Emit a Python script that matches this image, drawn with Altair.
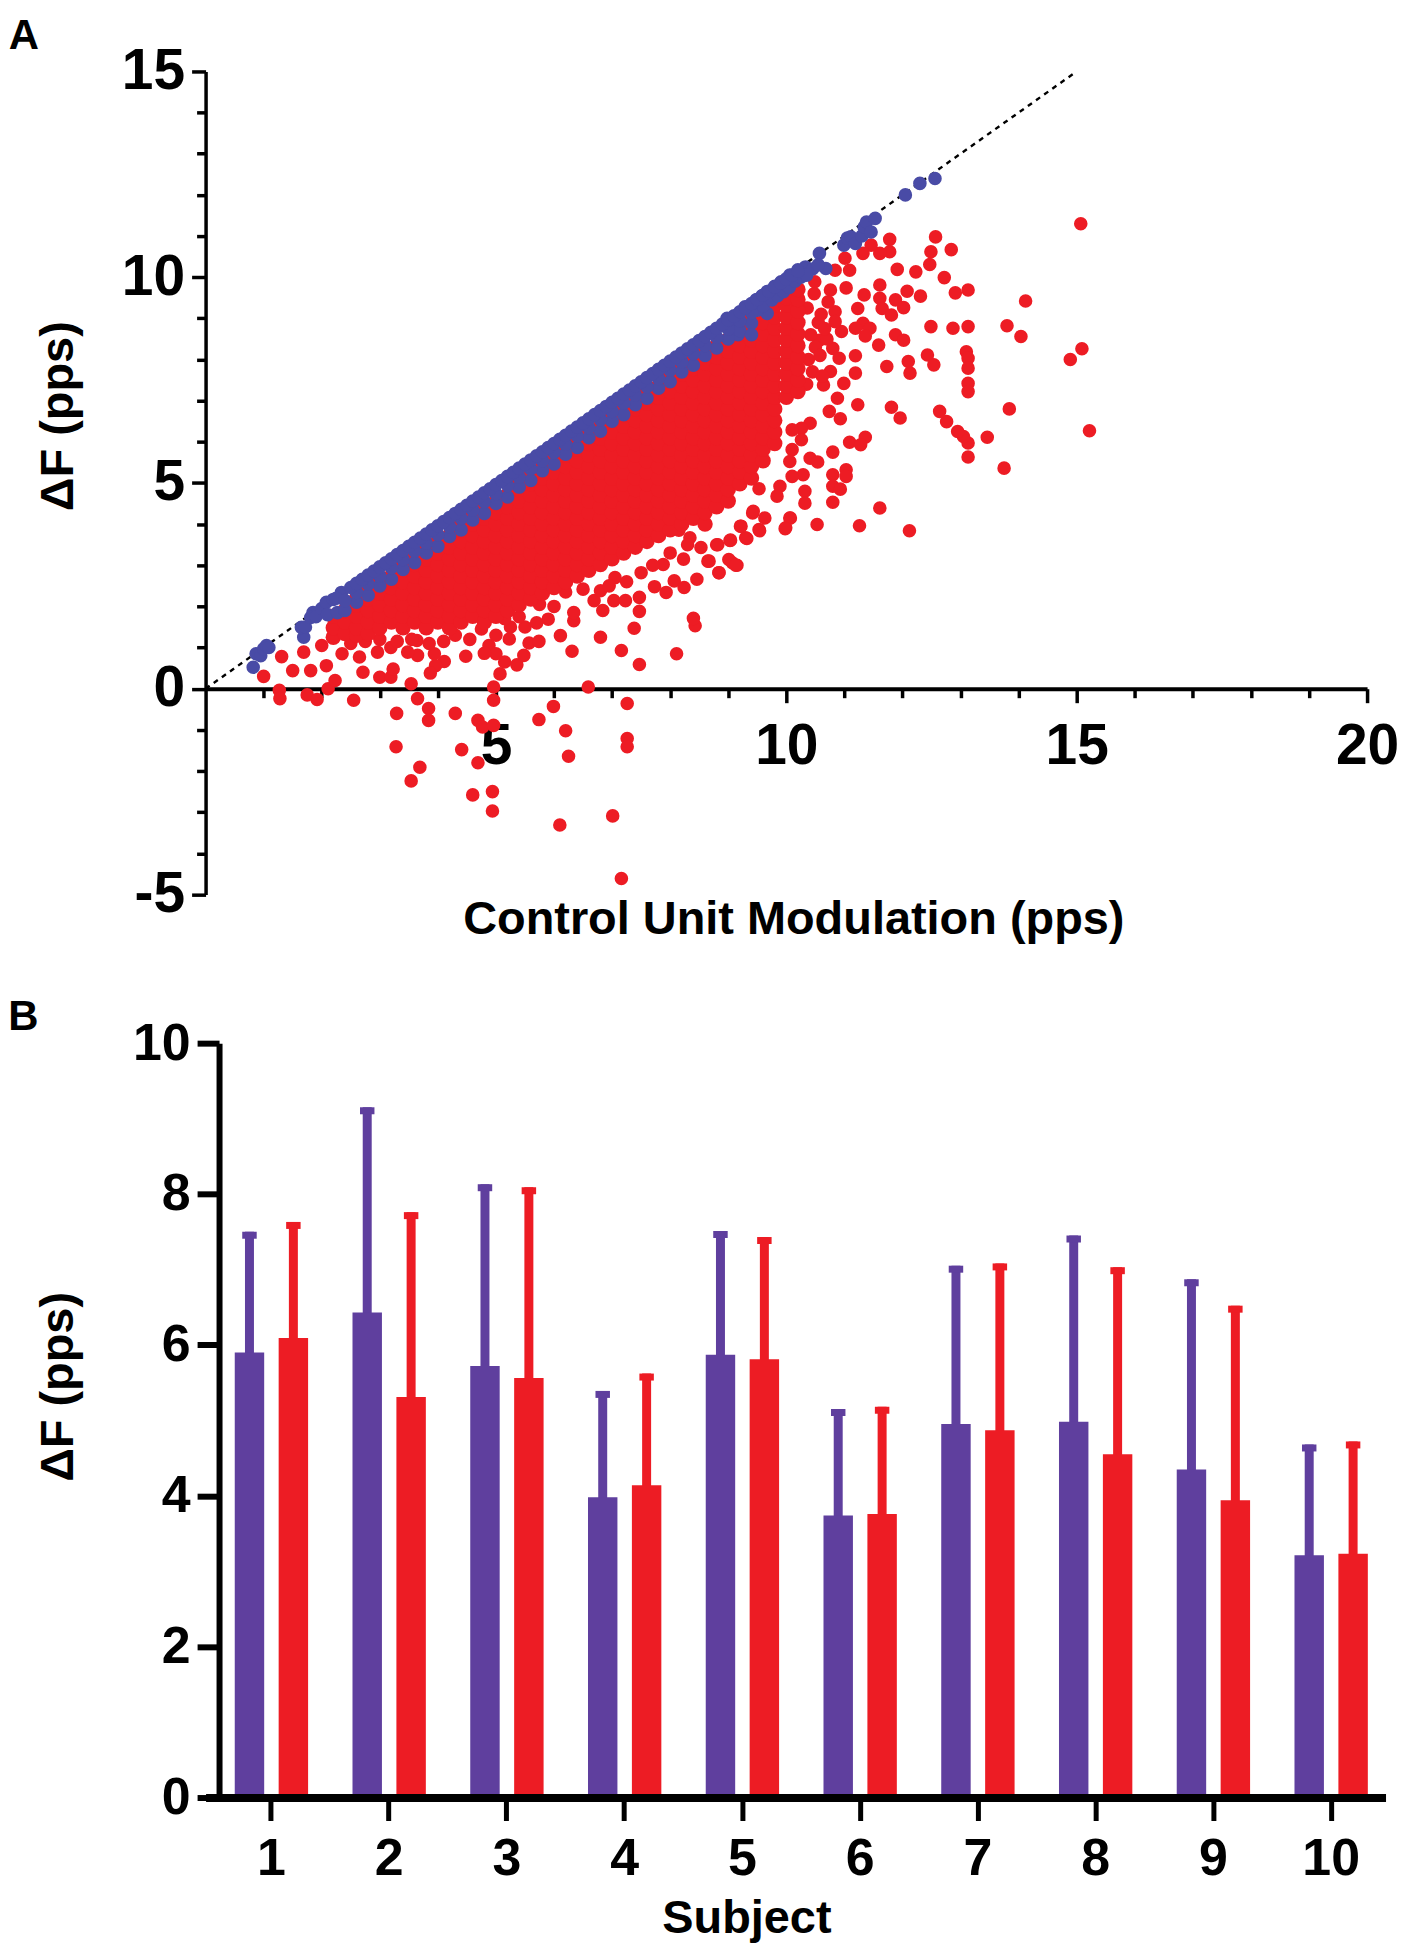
import altair as alt
import pandas as pd

SANS = "Liberation Sans"
RED = "#ED1C24"
BLUE = "#494BA6"
PURPLE = "#5F3F9E"

# ---------- Panel A: dense red cloud, one list of dF values per control-unit modulation value
dense_red = [
    (2.2, [1.25, 1.48, 1.76]),
    (2.4, [1.34, 1.62, 1.9]),
    (2.6, [1.3, 1.48, 1.76, 2.04, 2.2]),
    (2.8, [1.34, 1.62, 1.9, 2.18, 2.4]),
    (3.0, [1.48, 1.76, 2.04, 2.32, 2.6]),
    (3.2, [1.62, 1.9, 2.18, 2.46, 2.74]),
    (3.4, [1.48, 1.76, 2.04, 2.32, 2.6, 2.88, 3.0]),
    (3.6, [1.62, 1.9, 2.18, 2.46, 2.74, 3.02, 3.2]),
    (3.8, [1.48, 1.76, 2.04, 2.32, 2.6, 2.88, 3.16, 3.4]),
    (4.0, [1.62, 1.9, 2.18, 2.46, 2.74, 3.02, 3.3, 3.58]),
    (4.2, [1.48, 1.76, 2.04, 2.32, 2.6, 2.88, 3.16, 3.44, 3.72]),
    (4.4, [1.62, 1.9, 2.18, 2.46, 2.74, 3.02, 3.3, 3.58, 3.86, 4.0]),
    (4.6, [1.76, 2.04, 2.32, 2.6, 2.88, 3.16, 3.44, 3.72, 4.0, 4.2]),
    (4.8, [1.62, 1.9, 2.18, 2.46, 2.74, 3.02, 3.3, 3.58, 3.86, 4.14, 4.4]),
    (5.0, [1.76, 2.04, 2.32, 2.6, 2.88, 3.16, 3.44, 3.72, 4.0, 4.28, 4.56]),
    (5.2, [1.9, 2.18, 2.46, 2.74, 3.02, 3.3, 3.58, 3.86, 4.14, 4.42, 4.7]),
    (5.4, [2.04, 2.32, 2.6, 2.88, 3.16, 3.44, 3.72, 4.0, 4.28, 4.56, 4.84, 5.0]),
    (5.6, [2.18, 2.46, 2.74, 3.02, 3.3, 3.58, 3.86, 4.14, 4.42, 4.7, 4.98, 5.2]),
    (5.8, [2.32, 2.6, 2.88, 3.16, 3.44, 3.72, 4.0, 4.28, 4.56, 4.84, 5.12, 5.4]),
    (6.0, [2.46, 2.74, 3.02, 3.3, 3.58, 3.86, 4.14, 4.42, 4.7, 4.98, 5.26, 5.6]),
    (6.2, [2.6, 2.88, 3.16, 3.44, 3.72, 4.0, 4.28, 4.56, 4.84, 5.12, 5.4, 5.68, 5.85]),
    (6.4, [2.74, 3.02, 3.3, 3.58, 3.86, 4.14, 4.42, 4.7, 4.98, 5.26, 5.54, 5.82, 6.05]),
    (6.6, [2.88, 3.16, 3.44, 3.72, 4.0, 4.28, 4.56, 4.84, 5.12, 5.4, 5.68, 5.96, 6.24]),
    (6.8, [3.02, 3.3, 3.58, 3.86, 4.14, 4.42, 4.7, 4.98, 5.26, 5.54, 5.82, 6.1, 6.38]),
    (7.0, [3.16, 3.44, 3.72, 4.0, 4.28, 4.56, 4.84, 5.12, 5.4, 5.68, 5.96, 6.24, 6.52, 6.65]),
    (7.2, [3.3, 3.58, 3.86, 4.14, 4.42, 4.7, 4.98, 5.26, 5.54, 5.82, 6.1, 6.38, 6.66, 6.85]),
    (7.4, [3.44, 3.72, 4.0, 4.28, 4.56, 4.84, 5.12, 5.4, 5.68, 5.96, 6.24, 6.52, 6.8, 7.05]),
    (7.6, [3.58, 3.86, 4.14, 4.42, 4.7, 4.98, 5.26, 5.54, 5.82, 6.1, 6.38, 6.66, 6.94, 7.22]),
    (7.8, [3.72, 4.0, 4.28, 4.56, 4.84, 5.12, 5.4, 5.68, 5.96, 6.24, 6.52, 6.8, 7.08, 7.36]),
    (8.0, [3.86, 4.14, 4.42, 4.7, 4.98, 5.26, 5.54, 5.82, 6.1, 6.38, 6.66, 6.94, 7.22, 7.5, 7.65]),
    (8.2, [4.0, 4.28, 4.56, 4.84, 5.12, 5.4, 5.68, 5.96, 6.24, 6.52, 6.8, 7.08, 7.36, 7.64, 7.85]),
    (8.4, [4.14, 4.42, 4.7, 4.98, 5.26, 5.54, 5.82, 6.1, 6.38, 6.66, 6.94, 7.22, 7.5, 7.78, 8.05]),
    (8.6, [4.0, 4.28, 4.56, 4.84, 5.12, 5.4, 5.68, 5.96, 6.24, 6.52, 6.8, 7.08, 7.36, 7.64, 7.92, 8.2]),
    (8.8, [4.42, 4.7, 4.98, 5.26, 5.54, 5.82, 6.1, 6.38, 6.66, 6.94, 7.22, 7.5, 7.78, 8.06, 8.34]),
    (9.0, [4.56, 4.84, 5.12, 5.4, 5.68, 5.96, 6.24, 6.52, 6.8, 7.08, 7.36, 7.64, 7.92, 8.2, 8.48]),
    (9.2, [4.98, 5.26, 5.54, 5.82, 6.1, 6.38, 6.66, 6.94, 7.22, 7.5, 7.78, 8.06, 8.34, 8.62, 8.8]),
    (9.4, [5.12, 5.4, 5.68, 5.96, 6.24, 6.52, 6.8, 7.08, 7.36, 7.64, 7.92, 8.2, 8.48, 8.76, 9.0]),
    (9.6, [5.54, 5.82, 6.1, 6.38, 6.66, 6.94, 7.22, 7.5, 7.78, 8.06, 8.34, 8.62, 8.9, 9.2]),
    (9.8, [5.96, 6.24, 6.52, 6.8, 7.08, 7.36, 7.64, 7.92, 8.2, 8.48, 8.76, 9.04, 9.32]),
    (10.0, [7.08, 7.36, 7.64, 7.92, 8.2, 8.48, 8.76, 9.04, 9.32, 9.5]),
    (10.2, [7.22, 7.5, 7.78, 8.06, 8.34, 8.62, 8.9, 9.18, 9.46, 9.7]),
]

# Red points that stand apart from the cloud
scatter_red_x = [
    1.0, 1.31, 1.5, 1.27, 1.28, 1.75, 1.92, 1.81, 1.69, 2.0, 2.08, 2.11, 2.23, 2.55, 2.35, 2.65, 2.71, 2.96, 3.19, 3.0,
    3.19, 3.23, 3.54, 3.65, 3.84, 3.84, 3.29, 3.28, 3.69, 3.54, 4.3, 4.41, 4.69, 4.77, 4.96, 4.69, 4.6, 4.94, 4.94, 4.96,
    4.96, 5.07, 5.15, 5.74, 5.99, 6.2, 6.25, 6.59, 7.26, 7.26, 7.26, 6.1, 7.01, 7.16, 7.47, 7.16, 6.31, 6.8, 6.11, 7.38,
    8.11, 8.43, 8.4, 5.36, 5.48, 5.57, 5.74, 5.23, 4.88, 5.0, 4.8, 4.48, 4.11, 3.96, 3.87, 3.94, 3.65, 3.48, 3.64, 6.34,
    6.34, 5.9, 6.84, 6.69, 6.8, 6.5, 7.03, 7.23, 7.47, 7.47, 7.5, 7.73, 7.93, 8.07, 8.24, 8.46, 8.84, 8.65, 9.07, 9.15,
    8.8, 8.53, 9.03, 9.3, 9.53, 9.22, 9.42, 9.63, 8.34, 8.23, 7.88, 9.99, 10.07, 10.53,
    15.07, 14.12, 15.09, 14.89, 15.22, 13.84, 13.8, 14.04, 13.75, 13.46, 13.13, 13.13, 13.05, 12.95, 12.76, 12.64, 11.96, 11.81,
    13.13, 12.91, 13.13, 12.87, 12.49, 12.57, 12.84, 12.49, 12.47, 12.23, 11.91, 12.72, 11.78, 11.78, 11.61, 11.46, 11.32,
    13.1, 13.13, 13.13, 13.13, 13.13, 12.43, 12.54, 12.1, 12.13, 11.73, 11.19, 11.19, 11.59, 11.88, 12.02, 11.61, 11.61, 11.65,
    11.81, 11.88, 12.02, 12.08, 12.31, 11.34, 11.23, 11.03, 11.09, 11.01, 10.84, 11.32, 11.44, 11.36, 11.19, 10.95, 10.76, 10.49,
    10.84, 10.84, 10.57, 10.8, 10.91, 10.76, 10.99, 10.64, 10.88, 11.23, 10.74, 10.93, 10.41, 10.26, 10.1, 10.26, 10.1, 10.06,
    11.36, 11.09, 11.28, 10.8, 10.41, 10.54, 11.03, 11.03, 10.8, 10.29, 10.1, 10.8, 10.93, 10.32, 10.32, 10.8, 9.89, 9.84, 9.53,
    11.61, 9.43, 9.21, 9.54, 10.06, 9.98, 11.26, 12.12, 9.32, 9.04, 8.82, 8.67, 9.01, 9.13, 8.84,
    2.5, 2.75, 3.0, 3.3, 3.55, 3.85, 4.1, 4.3, 4.55, 4.75, 5.0, 5.25, 5.5, 5.7, 5.4, 5.15, 6.0, 5.75, 6.2, 7.05, 7.25, 6.95,
    7.7, 8.0, 8.3, 8.15,
    10.35, 10.45, 10.38, 10.5, 10.42, 10.55, 10.36, 10.48, 10.62, 10.58, 10.7, 10.66, 10.6, 10.72,
]
scatter_red_y = [
    0.3, 0.78, 0.44, -0.04, -0.24, -0.15, -0.26, 0.44, 0.89, 1.05, 0.56, 0.0, 0.2, -0.28, 0.85, 0.77, 0.4, 0.89, 1.0, 0.28,
    0.28, 0.48, 0.12, -0.24, -0.48, -0.77, -0.6, -1.41, -1.91, -2.24, -0.6, -1.48, -0.77, -0.93, -0.89, -1.8, -2.58, -2.5, -2.97, -0.28,
    0.04, 0.36, 0.65, -0.75, -0.43, -1.02, -1.64, 0.04, -0.36, -1.21, -1.41, -3.31, -3.09, -4.61, 0.59, 0.93, 0.91, 1.25, 1.29, 1.47,
    0.85, 1.53, 1.71, 0.58, 0.81, 1.11, 1.15, 1.21, 1.05, 0.85, 0.86, 0.79, 0.66, 0.56, 0.38, 0.85, 0.81, 0.89, 1.17, 1.65,
    1.85, 1.69, 1.9, 2.14, 2.38, 2.42, 2.14, 2.14, 2.22, 1.88, 2.82, 2.48, 2.34, 2.62, 2.46, 2.66, 2.82, 3.1, 3.06, 3.0,
    3.5, 3.43, 3.6, 3.67, 3.87, 3.95, 4.27, 4.15, 3.67, 3.15, 3.02, 3.91, 4.15, 3.99,
    11.3, 9.42, 8.26, 8.0, 6.27, 6.8, 8.82, 8.56, 5.36, 6.11, 5.63, 5.97, 6.13, 6.25, 6.49, 6.74, 6.58, 6.84,
    9.69, 9.62, 8.8, 8.76, 8.8, 10.98, 10.67, 10.62, 10.31, 10.13, 10.19, 9.99, 10.92, 10.62, 10.58, 10.78, 10.58,
    8.19, 8.03, 7.79, 7.42, 7.22, 8.11, 7.87, 7.95, 7.67, 7.83, 8.09, 7.67, 8.35, 8.6, 8.47, 9.81, 9.49, 9.24,
    9.08, 9.45, 9.26, 9.66, 9.54, 9.57, 9.24, 9.74, 10.17, 10.46, 10.17, 8.88, 8.76, 8.57, 8.76, 8.68, 9.69, 9.89,
    9.16, 8.92, 8.47, 8.27, 8.03, 7.71, 7.42, 7.38, 7.06, 6.9, 6.74, 6.56, 6.45, 6.33, 6.29, 6.05, 5.81, 5.52,
    6.11, 5.99, 5.93, 5.75, 5.6, 5.51, 5.32, 5.16, 5.2, 5.2, 5.16, 4.92, 4.85, 4.8, 4.51, 4.53, 4.92, 4.68, 4.86,
    4.39, 4.31, 3.95, 3.84, 4.15, 3.89, 3.96, 3.84, 3.65, 3.61, 3.5, 3.1, 3.14, 3.0, 2.82,
    1.1, 1.15, 1.2, 1.15, 1.2, 1.1, 1.15, 1.3, 1.2, 1.45, 1.3, 1.5, 1.5, 1.6, 1.75, 1.7, 2.0, 2.05, 2.35, 2.7, 2.6, 2.5,
    3.0, 3.3, 3.5, 3.85,
    7.4, 7.7, 8.0, 8.3, 8.6, 8.9, 9.25, 9.6, 7.6, 8.1, 8.5, 8.75, 9.1, 9.4,
]

# Blue points: the edge on the identity line
blue_edge_x = [
    2.5, 2.6, 2.7, 2.8, 2.9, 3.0, 3.1, 3.2, 3.3, 3.4, 3.5, 3.6, 3.7, 3.8, 3.9, 4.0, 4.1, 4.2, 4.3, 4.4, 4.5, 4.6, 4.7, 4.8, 4.9,
    5.0, 5.1, 5.2, 5.3, 5.4, 5.5, 5.6, 5.7, 5.8, 5.9, 6.0, 6.1, 6.2, 6.3, 6.4, 6.5, 6.6, 6.7, 6.8, 6.9, 7.0, 7.1, 7.2, 7.3, 7.4,
    7.5, 7.6, 7.7, 7.8, 7.9, 8.0, 8.1, 8.2, 8.3, 8.4, 8.5, 8.6, 8.7, 8.8, 8.9, 9.0,
    9.1, 9.2, 9.3, 9.4, 9.5, 9.6, 9.7, 9.8, 9.9, 10.0, 10.1, 10.2,
]
blue_edge_y = [
    2.46, 2.56, 2.66, 2.76, 2.86, 2.96, 3.06, 3.16, 3.26, 3.36, 3.46, 3.56, 3.66, 3.76, 3.86, 3.96, 4.06, 4.16, 4.26, 4.36, 4.46, 4.56, 4.66, 4.76, 4.86,
    4.96, 5.06, 5.16, 5.26, 5.36, 5.46, 5.56, 5.66, 5.76, 5.86, 5.96, 6.06, 6.16, 6.26, 6.36, 6.46, 6.56, 6.66, 6.76, 6.86, 6.96, 7.06, 7.16, 7.26, 7.36,
    7.46, 7.56, 7.66, 7.76, 7.86, 7.96, 8.06, 8.16, 8.26, 8.36, 8.46, 8.56, 8.66, 8.76, 8.86, 8.96,
    9.06, 9.16, 9.26, 9.36, 9.46, 9.56, 9.66, 9.76, 9.86, 9.96, 10.05, 10.15,
]
# Blue points: middle and lower rows of the band
blue_row_x = [
    2.4, 2.6, 2.8, 3.0, 3.2, 3.4, 3.6, 3.8, 4.0, 4.2, 4.4, 4.6, 4.8, 5.0, 5.2, 5.4, 5.6, 5.8, 6.0, 6.2, 6.4, 6.6, 6.8, 7.0, 7.2,
    7.4, 7.6, 7.8, 8.0, 8.2, 8.4, 8.6, 8.8, 9.0, 9.2, 9.4,
]
blue_mid_y = [
    2.14, 2.34, 2.54, 2.74, 2.94, 3.14, 3.34, 3.54, 3.74, 3.94, 4.14, 4.34, 4.54, 4.74, 4.94, 5.14, 5.34, 5.54, 5.74, 5.94, 6.14, 6.34, 6.54, 6.74, 6.94,
    7.14, 7.34, 7.54, 7.74, 7.94, 8.14, 8.34, 8.54, 8.74, 8.94, 9.14,
]
blue_low_y = [
    1.9, 2.1, 2.27, 2.5, 2.66, 2.9, 3.06, 3.3, 3.46, 3.7, 3.86, 4.1, 4.26, 4.5, 4.66, 4.9, 5.06, 5.3, 5.46, 5.7, 5.86, 6.1, 6.26, 6.5, 6.66,
    6.9, 7.06, 7.3, 7.46, 7.7, 7.86, 8.1, 8.28, 8.5, 8.7, 8.6,
]
# Blue points: the sparse ends of the band
blue_end_x = [
    0.82, 0.87, 0.95, 1.0, 1.05, 1.09, 1.69, 1.65, 1.72, 1.85, 1.81, 1.9, 2.0, 2.08, 2.1, 2.2, 2.27, 2.34, 2.25,
    8.98, 9.1, 9.17, 9.29, 9.4, 9.48, 9.58, 9.67, 9.67, 9.8, 9.91, 10.06, 10.2, 10.33, 10.45, 10.57, 10.68, 10.55,
    9.5, 9.6, 9.75, 9.85, 9.95, 10.05, 10.15, 10.25, 10.35,
    10.99, 11.05, 11.11, 11.19, 11.3, 11.34, 11.38, 11.46, 11.53, 12.05, 12.3, 12.56,
]
blue_end_y = [
    0.52, 0.85, 0.8, 0.97, 1.05, 1.0, 1.25, 1.49, 1.5, 1.85, 1.73, 1.75, 1.95, 2.1, 1.8, 2.17, 1.85, 2.34, 2.2,
    9.0, 8.75, 8.6, 9.28, 8.88, 9.45, 9.55, 9.12, 9.65, 9.78, 9.89, 10.05, 10.18, 10.25, 10.2, 10.58, 10.21, 10.3,
    9.2, 9.3, 9.45, 9.55, 9.65, 9.75, 9.9, 10.0, 10.05,
    10.78, 10.95, 10.98, 10.82, 11.0, 11.22, 11.34, 11.1, 11.43, 12.0, 12.28, 12.4,
]

identity_x = [0, 15]
identity_y = [0, 15]

x_major = [5, 10, 15, 20]
x_minor = [1, 2, 3, 4, 6, 7, 8, 9, 11, 12, 13, 14, 16, 17, 18, 19]
y_major = [-5, 0, 5, 10, 15]
y_minor = [-4, -3, -2, -1, 1, 2, 3, 4, 6, 7, 8, 9, 11, 12, 13, 14]

# ---------- Panel B
subjects = [1, 2, 3, 4, 5, 6, 7, 8, 9, 10]
control_mean = [5.90, 6.43, 5.72, 3.98, 5.87, 3.74, 4.95, 4.98, 4.35, 3.21]
control_upper = [7.50, 9.15, 8.13, 5.39, 7.51, 5.15, 7.05, 7.45, 6.87, 4.68]
test_mean = [6.09, 5.31, 5.56, 4.14, 5.81, 3.76, 4.87, 4.55, 3.94, 3.23]
test_upper = [7.63, 7.76, 8.09, 5.62, 7.43, 5.18, 7.08, 7.03, 6.52, 4.72]

dense_x, dense_y = [], []
for cx, ys_col in dense_red:
    for v in ys_col:
        dense_x.append(cx)
        dense_y.append(v)

dense_df = pd.DataFrame({"x": dense_x, "y": dense_y})
red_df = pd.DataFrame({"x": scatter_red_x, "y": scatter_red_y})
blue_df = pd.DataFrame({"x": blue_end_x + blue_row_x + blue_row_x + blue_edge_x,
                        "y": blue_end_y + blue_low_y + blue_mid_y + blue_edge_y})
id_df = pd.DataFrame({"x": identity_x, "y": identity_y})

xs = alt.Scale(domain=[0, 20], nice=False, zero=False)
ys = alt.Scale(domain=[-5, 15], nice=False, zero=False)
AW, AH = 1164, 824.8
X_OFF = -206.2
POINT = 185
DENSE_POINT = 240
HYPHEN_LABEL = "'' + datum.value"


def tick_font(size):
    return dict(labelFont=SANS, labelFontWeight="bold", labelFontSize=size, labelColor="#000", labelAngle=0,
                tickColor="#000", domainColor="#000", grid=False, labelExpr=HYPHEN_LABEL)


line = alt.Chart(id_df).mark_line(color="#000", strokeWidth=2.4, strokeDash=[5, 5]).encode(
    x=alt.X("x:Q", scale=xs, axis=alt.Axis(orient="bottom", values=x_minor, labels=False, domain=False, title=None,
                                           tickSize=9, tickWidth=3.5, tickColor="#000", grid=False, offset=X_OFF)),
    y=alt.Y("y:Q", scale=ys, axis=alt.Axis(orient="left", values=y_minor, labels=False, domain=False, title=None,
                                           tickSize=9, tickWidth=3.5, tickColor="#000", grid=False)),
)
red_pts = alt.Chart(red_df).mark_circle(color=RED, opacity=1, size=POINT).encode(
    x=alt.X("x:Q", scale=xs, axis=alt.Axis(orient="bottom", values=x_major, offset=X_OFF, tickSize=14, tickWidth=3.5,
                                           domainWidth=4, labelPadding=16,
                                           title="Control Unit Modulation (pps)", titleFont=SANS, titleFontWeight="bold",
                                           titleFontSize=47, titleColor="#000", titleX=589, titleY=231,
                                           titleBaseline="middle", titleAlign="center", labelFlush=False,
                                           **tick_font(57))),
    y=alt.Y("y:Q", scale=ys, axis=alt.Axis(orient="left", values=y_major, tickSize=14, tickWidth=3.5, domainWidth=3.5,
                                           labelPadding=7,
                                           title="ΔF (pps)", titleFont=SANS, titleFontWeight="bold", titleFontSize=47,
                                           titleColor="#000", titleX=-147, titleY=345, titleBaseline="middle",
                                           titleAlign="center", **tick_font(57))),
)
dense_pts = alt.Chart(dense_df).mark_circle(color=RED, opacity=1, size=DENSE_POINT).encode(
    x=alt.X("x:Q", scale=xs, axis=None),
    y=alt.Y("y:Q", scale=ys, axis=None),
)
blue_pts = alt.Chart(blue_df).mark_circle(color=BLUE, opacity=1, size=POINT).encode(
    x=alt.X("x:Q", scale=xs, axis=None),
    y=alt.Y("y:Q", scale=ys, axis=None),
)
letter_a = alt.Chart(pd.DataFrame({"t": ["A"]})).mark_text(
    font=SANS, fontWeight="bold", fontSize=42, color="#000", align="center", baseline="middle"
).encode(text="t:N", x=alt.value(-182), y=alt.value(-35.9))

panel_a = alt.layer(line, red_pts, dense_pts, blue_pts, letter_a).resolve_axis(x="independent", y="independent").properties(
    width=AW, height=AH)

# Panel B
bx = alt.Scale(domain=[0.445, 10.466], nice=False, zero=False, padding=0)
by = alt.Scale(domain=[0, 10], nice=False)
b_df = pd.DataFrame({"s": subjects, "cm": control_mean, "cu": control_upper, "tm": test_mean, "tu": test_upper})

x_b_axis = alt.Axis(orient="bottom", values=subjects, tickSize=23, tickWidth=5, domainWidth=8,
                    labelPadding=13, zindex=1, labelFlush=False,
                    title="Subject", titleFont=SANS, titleFontWeight="bold", titleFontSize=47,
                    titleColor="#000", titleX=542, titleY=121, titleBaseline="middle",
                    titleAlign="center", **tick_font(52))
y_b_axis = alt.Axis(orient="left", values=[0, 2, 4, 6, 8, 10], tickSize=22, tickWidth=6, domainWidth=6, labelPadding=7,
                    offset=-13.5, zindex=1,
                    title="ΔF (pps)", titleFont=SANS, titleFontWeight="bold", titleFontSize=47, titleColor="#000",
                    titleX=-161, titleY=344, titleBaseline="middle", titleAlign="center", **tick_font(52))


def series(mean, upper, color, shift, first=False):
    stem = alt.Chart(b_df).mark_bar(color=color, size=9, xOffset=shift, orient="vertical").encode(
        x=alt.X("s:Q", scale=bx, axis=x_b_axis if first else None),
        y=alt.Y(f"{upper}:Q", scale=by, axis=y_b_axis if first else None))
    cap = alt.Chart(b_df).mark_tick(color=color, size=14.5, thickness=7, xOffset=shift, yOffset=3.5, orient="horizontal",
                                    opacity=1).encode(
        x=alt.X("s:Q", scale=bx, axis=None), y=alt.Y(f"{upper}:Q", scale=by, axis=None))
    bar = alt.Chart(b_df).mark_bar(color=color, size=29.5, xOffset=shift, orient="vertical").encode(
        x=alt.X("s:Q", scale=bx, axis=None), y=alt.Y(f"{mean}:Q", scale=by, axis=None))
    return [stem, cap, bar]


letter_b = alt.Chart(pd.DataFrame({"t": ["B"]})).mark_text(
    font=SANS, fontWeight="bold", fontSize=42, color="#000", align="center", baseline="middle"
).encode(text="t:N", x=alt.value(-182.5), y=alt.value(-26))

panel_b = alt.layer(*series("cm", "cu", PURPLE, -21.5, first=True), *series("tm", "tu", RED, 22.5), letter_b
                    ).resolve_axis(x="independent", y="independent").properties(width=1182.5, height=756)

chart = alt.vconcat(panel_a, panel_b, spacing=148.8, bounds="flush").properties(
    padding={"left": 0, "top": 4.5, "right": 0, "bottom": 0}, background="white"
).configure_view(stroke=None)
chart.save("out.html", embed_options={"renderer": "svg", "actions": False})
